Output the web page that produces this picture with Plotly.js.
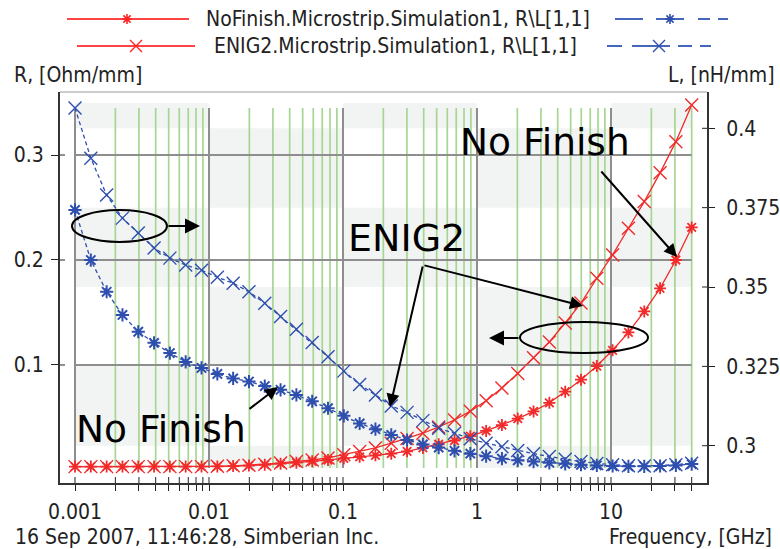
<!DOCTYPE html>
<html><head><meta charset="utf-8">
<script src="https://cdn.plot.ly/plotly-3.0.1.min.js"></script>
<style>html,body{margin:0;padding:0;background:#fff;} #chart{width:780px;height:549px;}</style>
</head><body><div id="chart"></div>
<script>
// ---------------- data ----------------
const freqGHz = [0.001, 0.001312, 0.001722, 0.00226, 0.002965, 0.003891, 0.005105, 0.006699, 0.008791, 0.01154,
  0.01514, 0.01986, 0.02607, 0.0342, 0.04488, 0.05889, 0.07728, 0.1014, 0.1331, 0.1746,
  0.2291, 0.3007, 0.3945, 0.5177, 0.6794, 0.8915, 1.17, 1.535, 2.014, 2.643,
  3.468, 4.551, 5.972, 7.837, 10.28, 13.49, 17.71, 23.24, 30.49, 40];

const rNoFinish = [0.0032, 0.0032, 0.0032, 0.0032, 0.0032, 0.0032, 0.0032, 0.0032, 0.0032, 0.0034,
  0.0037, 0.0042, 0.005, 0.006, 0.007, 0.0082, 0.0095, 0.011, 0.0125, 0.014,
  0.0155, 0.0178, 0.021, 0.0245, 0.028, 0.0322, 0.0372, 0.0428, 0.049, 0.0558,
  0.064, 0.0746, 0.086, 0.099, 0.114, 0.131, 0.151, 0.173, 0.2, 0.231];

const rENIG2 = [0.0032, 0.0032, 0.0032, 0.0032, 0.0032, 0.0032, 0.0032, 0.0032, 0.0032, 0.0035,
  0.004, 0.0046, 0.0055, 0.0067, 0.008, 0.0095, 0.0115, 0.0145, 0.0175, 0.021,
  0.0255, 0.03, 0.035, 0.041, 0.0476, 0.056, 0.066, 0.078, 0.092, 0.107,
  0.122, 0.14, 0.159, 0.1826, 0.2048, 0.2302, 0.2556, 0.283, 0.3127, 0.3476];

const lNoFinish = [0.3743, 0.3585, 0.3485, 0.3412, 0.3359, 0.3324, 0.3292, 0.3264, 0.3245, 0.3226,
  0.3212, 0.3202, 0.3188, 0.3176, 0.316, 0.314, 0.3118, 0.3094, 0.307, 0.3052,
  0.3034, 0.3018, 0.3004, 0.2994, 0.2984, 0.2975, 0.2967, 0.2959, 0.2954, 0.295,
  0.2946, 0.2943, 0.294, 0.2938, 0.2936, 0.2935, 0.2935, 0.2936, 0.2938, 0.2942];

const lENIG2 = [0.4064, 0.3906, 0.379, 0.3717, 0.367, 0.3623, 0.3591, 0.3569, 0.3553, 0.3531,
  0.3512, 0.3485, 0.3449, 0.3407, 0.3367, 0.3325, 0.328, 0.3235, 0.3193, 0.316,
  0.3125, 0.3105, 0.3079, 0.3055, 0.3039, 0.3022, 0.3008, 0.2997, 0.2985, 0.2975,
  0.2966, 0.2957, 0.295, 0.2944, 0.294, 0.2937, 0.2936, 0.2937, 0.294, 0.2945];

const xTickVals = [0.001, 0.002, 0.003, 0.004, 0.005, 0.006, 0.007, 0.008, 0.009,
  0.01, 0.02, 0.03, 0.04, 0.05, 0.06, 0.07, 0.08, 0.09,
  0.1, 0.2, 0.3, 0.4, 0.5, 0.6, 0.7, 0.8, 0.9,
  1, 2, 3, 4, 5, 6, 7, 8, 9,
  10, 20, 30, 40];
const xTickText = ['0.001', '', '', '', '', '', '', '', '',
  '0.01', '', '', '', '', '', '', '', '',
  '0.1', '', '', '', '', '', '', '', '',
  '1', '', '', '', '', '', '', '', '',
  '10', '', '', ''];
const rTickVals = [0.1, 0.2, 0.3];
const rTickText = ['0.1', '0.2', '0.3'];
const lTickVals = [0.3, 0.325, 0.35, 0.375, 0.4];
const lTickText = ['0.3', '0.325', '0.35', '0.375', '0.4'];
const bandEdgesL = [0.408, 0.4, 0.375, 0.35, 0.325, 0.3, 0.293];
const decadeEdges = [0.001, 0.01, 0.1, 1, 10, 40];
const seriesNames = ['NoFinish.Microstrip.Simulation1, R\\L[1,1]', 'ENIG2.Microstrip.Simulation1, R\\L[1,1]'];
const rTitle = 'R, [Ohm/mm]';
const lTitle = 'L, [nH/mm]';
const xTitle = 'Frequency, [GHz]';
const stamp = '16 Sep 2007, 11:46:28, Simberian Inc.';

// ---------------- style ----------------
const RED = '#f22a2a';
const BLUE = '#2f4fae';
const FONT = 'DejaVu Sans Condensed, DejaVu Sans, sans-serif';
const BIG = 'DejaVu Sans, sans-serif';
const PL = 60, PT = 92, PW = 647, PH = 391;
const px = x => (x - PL) / PW;
const py = y => (PT + PH - y) / PH;

const traces = [
  {x: freqGHz, y: rNoFinish, name: seriesNames[0] + ' R', yaxis: 'y', mode: 'lines+markers',
   line: {color: RED, width: 1.3}, marker: {symbol: 'asterisk-open', size: 10, line: {color: RED, width: 1.8}}},
  {x: freqGHz, y: rENIG2, name: seriesNames[1] + ' R', yaxis: 'y', mode: 'lines+markers',
   line: {color: RED, width: 1.3}, marker: {symbol: 'x-thin-open', size: 13, line: {color: RED, width: 1.4}}},
  {x: freqGHz, y: lNoFinish, name: seriesNames[0] + ' L', yaxis: 'y2', mode: 'lines+markers',
   line: {color: BLUE, width: 1.3, dash: '4px,3px'}, marker: {symbol: 'asterisk-open', size: 11, line: {color: BLUE, width: 2}}},
  {x: freqGHz, y: lENIG2, name: seriesNames[1] + ' L', yaxis: 'y2', mode: 'lines+markers',
   line: {color: BLUE, width: 1.3, dash: '4px,3px'}, marker: {symbol: 'x-thin-open', size: 13, line: {color: BLUE, width: 1.4}}}
];

const shapes = [];
// checkerboard bands
for (let c = 0; c < decadeEdges.length - 1; c++) {
  for (let r = 0; r < bandEdgesL.length - 1; r++) {
    if ((c + r) % 2 === 0) {
      shapes.push({type: 'rect', layer: 'below', xref: 'x', yref: 'y2',
        x0: decadeEdges[c], x1: decadeEdges[c + 1], y0: bandEdgesL[r + 1], y1: bandEdgesL[r],
        fillcolor: '#f2f4f3', line: {width: 0}});
    }
  }
}
// vertical grid lines
xTickVals.forEach((v, i) => {
  const major = xTickText[i] !== '';
  shapes.push({type: 'line', layer: 'below', xref: 'x', yref: 'y2', x0: v, x1: v, y0: 0.293, y1: 0.4064,
    line: {color: major ? '#8e8e8e' : '#a6d692', width: major ? 2 : 1.7}});
});
// horizontal grid lines
rTickVals.forEach(v => {
  shapes.push({type: 'line', layer: 'below', xref: 'x', yref: 'y', x0: xTickVals[0], x1: xTickVals[xTickVals.length - 1], y0: v, y1: v,
    line: {color: '#8e8e8e', width: 2}});
});
// inner tick parts
xTickVals.forEach(v => shapes.push({type: 'line', xref: 'x', yref: 'paper', x0: v, x1: v, y0: 0, y1: 6 / PH, line: {color: '#222', width: 1}}));
rTickVals.forEach(v => shapes.push({type: 'line', xref: 'paper', yref: 'y', x0: 0, x1: 5 / PW, y0: v, y1: v, line: {color: '#222', width: 1}}));
lTickVals.forEach(v => shapes.push({type: 'line', xref: 'paper', yref: 'y2', x0: 1 - 5 / PW, x1: 1, y0: v, y1: v, line: {color: '#222', width: 1}}));
// top frame
shapes.push({type: 'line', xref: 'paper', yref: 'paper', x0: 0, x1: 1, y0: 1, y1: 1, line: {color: '#9a9a9a', width: 1}});

// ellipses
shapes.push({type: 'circle', xref: 'paper', yref: 'paper', x0: px(72), x1: px(167), y0: py(242), y1: py(210), line: {color: '#000', width: 2}});
shapes.push({type: 'circle', xref: 'paper', yref: 'paper', x0: px(520), x1: px(648), y0: py(353), y1: py(322), line: {color: '#000', width: 2}});

// legend glyphs
function seg(x0, y0, x1, y1, color, width, dash) {
  shapes.push({type: 'line', xref: 'paper', yref: 'paper', x0: px(x0), x1: px(x1), y0: py(y0), y1: py(y1),
    line: {color: color, width: width, dash: dash || 'solid'}});
}
function star(cx, cy, color) {
  const r = 5, a = 3.6;
  const p = (x, y) => px(x) + ',' + py(y);
  shapes.push({type: 'path', xref: 'paper', yref: 'paper', line: {color: color, width: 1.6},
    path: 'M' + p(cx - r, cy) + 'L' + p(cx + r, cy) + 'M' + p(cx, cy - r) + 'L' + p(cx, cy + r) +
          'M' + p(cx - a, cy - a) + 'L' + p(cx + a, cy + a) + 'M' + p(cx - a, cy + a) + 'L' + p(cx + a, cy - a)});
}
function cross(cx, cy, color) {
  const a = 6;
  const p = (x, y) => px(x) + ',' + py(y);
  shapes.push({type: 'path', xref: 'paper', yref: 'paper', line: {color: color, width: 1.4},
    path: 'M' + p(cx - a, cy - a) + 'L' + p(cx + a, cy + a) + 'M' + p(cx - a, cy + a) + 'L' + p(cx + a, cy - a)});
}
seg(67, 19, 189, 19, '#ff4444', 2); star(127, 19, '#ff2222');
seg(615, 19, 643, 19, '#4466bb', 2); seg(656, 19, 684, 19, '#4466bb', 2);
seg(698, 19, 710, 19, '#4466bb', 2); seg(718, 19, 728, 19, '#4466bb', 2); star(670, 19, BLUE);
seg(77, 46, 195, 46, '#ff4444', 2); cross(136, 46, '#ff2222');
seg(607, 46, 622, 46, '#4466bb', 2); seg(632, 46, 670, 46, '#4466bb', 2);
seg(678, 46, 692, 46, '#4466bb', 2); seg(700, 46, 711, 46, '#4466bb', 2); cross(659, 46, BLUE);

// annotations
const ann = [];
function txt(t, x, y, xanchor, size, family, color) {
  ann.push({text: t, xref: 'paper', yref: 'paper', x: px(x), y: py(y), xanchor: xanchor, yanchor: 'middle',
    showarrow: false, font: {family: family || FONT, size: size, color: color || '#222'}});
}
function arrow(tx, ty, sx, sy, size) {
  ann.push({text: '', xref: 'paper', yref: 'paper', x: px(tx), y: py(ty), ax: sx - tx, ay: sy - ty,
    axref: 'pixel', ayref: 'pixel', showarrow: true, arrowhead: 2, arrowsize: size || 1.3, arrowwidth: 2,
    arrowcolor: '#000', standoff: 0});
}
txt(seriesNames[0], 204, 19, 'left', 21);
txt(seriesNames[1], 212, 46, 'left', 21);
txt(rTitle, 12, 75, 'left', 21);
txt(lTitle, 777, 75, 'right', 21);
txt(xTitle, 774, 537, 'right', 21);
txt(stamp, 13, 537, 'left', 21);
txt('No Finish', 458, 142, 'left', 37.5, BIG, '#000');
txt('No Finish', 74, 429, 'left', 37.5, BIG, '#000');
txt('ENIG2', 346, 238, 'left', 38, BIG, '#000');
arrow(677, 257, 600, 170);
arrow(583, 306, 423, 265);
arrow(390, 407, 423, 265);
arrow(278, 387, 248, 410);
arrow(200, 226, 167, 226, 1.5);
arrow(489, 338, 520, 338, 1.5);

const tickFont = {family: FONT, size: 21, color: '#222'};
const layout = {
  width: 780, height: 549,
  margin: {l: PL, r: 780 - PL - PW, t: PT, b: 549 - PT - PH, pad: 0},
  paper_bgcolor: '#fff', plot_bgcolor: '#fff',
  showlegend: false,
  xaxis: {type: 'log', range: [-3.112, 1.7164], tickmode: 'array', tickvals: xTickVals, ticktext: xTickText,
    ticks: 'outside', ticklen: 6, tickcolor: '#222', tickwidth: 1, showgrid: false, zeroline: false,
    showline: true, linecolor: '#333', linewidth: 2, tickfont: tickFont, ticklabelstandoff: 3},
  yaxis: {range: [-0.0124, 0.36], tickmode: 'array', tickvals: rTickVals, ticktext: rTickText,
    ticks: 'outside', ticklen: 7, tickcolor: '#222', tickwidth: 1, showgrid: false, zeroline: false,
    showline: true, linecolor: '#333', linewidth: 2, tickfont: tickFont, ticklabelstandoff: 3},
  yaxis2: {overlaying: 'y', side: 'right', range: [0.28825, 0.41144], tickmode: 'array', tickvals: lTickVals, ticktext: lTickText,
    ticks: 'outside', ticklen: 6, tickcolor: '#222', tickwidth: 1, showgrid: false, zeroline: false,
    showline: true, linecolor: '#333', linewidth: 2, tickfont: tickFont, ticklabelstandoff: 7},
  shapes: shapes,
  annotations: ann
};
Plotly.newPlot('chart', traces, layout, {displayModeBar: false, staticPlot: true});
</script>
</body></html>
